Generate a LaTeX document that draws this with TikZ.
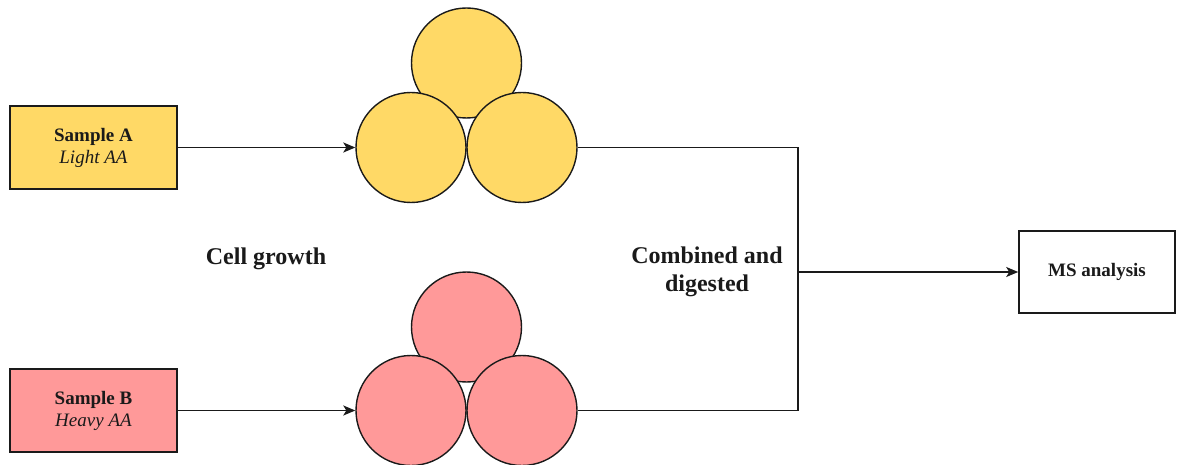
\documentclass[tikz,border=0pt]{standalone}
\usepackage{fontspec}
\setmainfont{Liberation Serif}
\usetikzlibrary{arrows.meta}
\definecolor{yfill}{HTML}{FFD966}
\definecolor{pfill}{HTML}{FF9999}
\definecolor{ink}{HTML}{1A1A1A}
\tikzset{
  boxstyle/.style={draw=ink, line width=1.6pt, minimum width=167pt, minimum height=83pt, inner sep=0pt, align=center, text=ink, font=\fontsize{19}{22}\selectfont},
  cell/.style={circle, draw=ink, line width=1.4pt, minimum size=110pt, inner sep=0pt},
  lbl/.style={text=ink, align=center, font=\fontsize{24}{28}\selectfont\bfseries},
  conn/.style={draw=ink, line width=1.6pt},
  arr/.style={conn, -{Stealth[length=12pt,width=10pt,inset=3pt]}}
}
\begin{document}
\begin{tikzpicture}[x=1pt,y=-1pt]
\useasboundingbox[fill=white] (0,0) rectangle (1178,465);
% sample boxes
\node[boxstyle, fill=yfill] (sA) at (93.5,147.5) {\textbf{Sample A}\\\textit{Light AA}};
\node[boxstyle, fill=pfill] (sB) at (93.5,410.5) {\textbf{Sample B}\\\textit{Heavy AA}};
% yellow cells
\node[cell, fill=yfill] (ya) at (466.5,63) {};
\node[cell, fill=yfill] (yl) at (411,147.5) {};
\node[cell, fill=yfill] (yr) at (522,147.5) {};
% pink cells
\node[cell, fill=pfill] (pa) at (466.5,327) {};
\node[cell, fill=pfill] (pl) at (411,410.5) {};
\node[cell, fill=pfill] (pr) at (522,410.5) {};
% MS box
\node[boxstyle, fill=white, minimum width=156pt, minimum height=82pt, font=\fontsize{19}{22}\selectfont\bfseries] (ms) at (1097,272) {MS analysis};
% labels
\node[lbl] (cg) at (266,259) {Cell growth};
\node[lbl] (cd) at (707,272) {Combined and\\digested};
% connectors
\draw[arr] (sA.east) -- (yl.west);
\draw[arr] (sB.east) -- (pl.west);
\coordinate (j) at (798,272);
\draw[conn] (yr.east) -| (j) |- (pr.east);
\draw[arr] (j) -- (ms.west);
\end{tikzpicture}
\end{document}
